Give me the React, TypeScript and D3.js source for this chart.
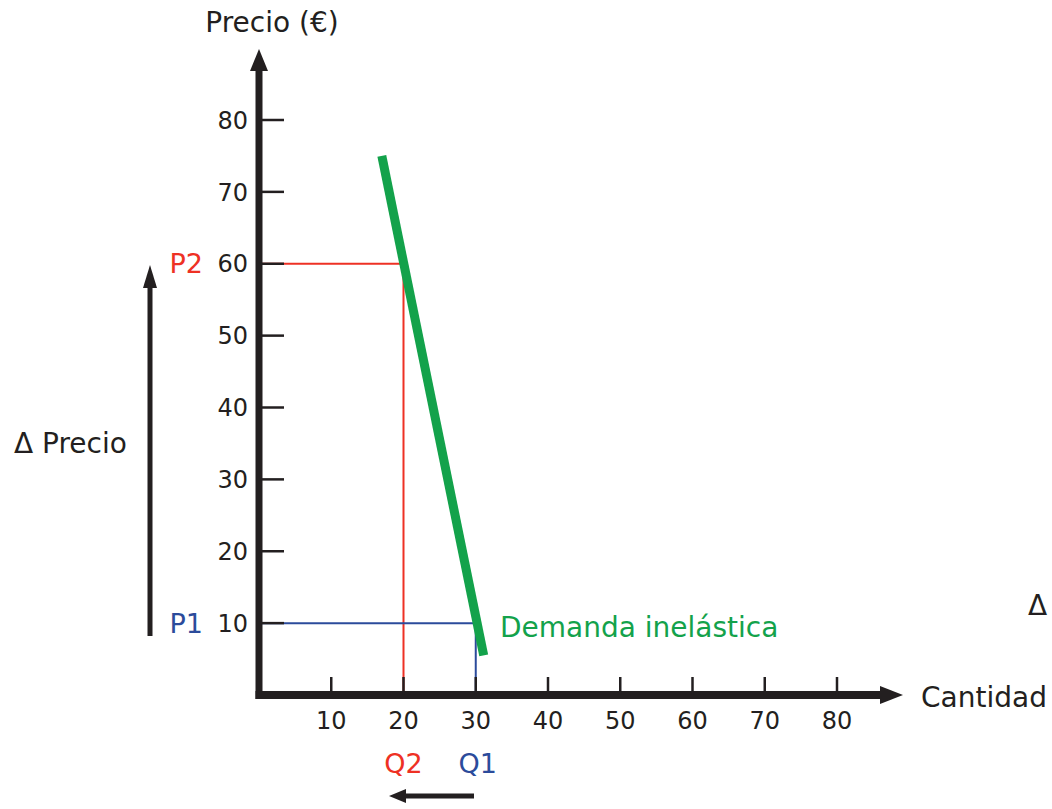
import React from "react";
import * as d3 from "d3";

const xTicks = [10, 20, 30, 40, 50, 60, 70, 80];
const yTicks = [10, 20, 30, 40, 50, 60, 70, 80];
// Demand curve endpoints (quantity, price)
const demand: [number, number][] = [
  [17.0, 75],
  [31.1, 5.5],
];
const point1 = { q: 30, p: 10, qLabel: "Q1", pLabel: "P1" };
const point2 = { q: 20, p: 60, qLabel: "Q2", pLabel: "P2" };

const W = 1052;
const H = 809;
const FONT = "'DejaVu Sans', Verdana, sans-serif";
const AX = "#231f20";
const RED = "#ee3124";
const BLUE = "#2b4b9b";
const GREEN = "#13a24b";

export default function App() {
  const x = d3.scaleLinear().domain([0, 80]).range([259, 837]);
  const y = d3.scaleLinear().domain([0, 80]).range([695, 120]);
  const line = d3
    .line<[number, number]>()
    .x((d) => x(d[0]))
    .y((d) => y(d[1]));

  const x0 = x(0);
  const y0 = y(0);

  return (
    <div style={{ position: "fixed", left: 0, top: 0 }}>
      <svg width={W} height={H} style={{ display: "block", background: "#fff" }} fontFamily={FONT}>
        {/* guide lines */}
        <line x1={x0} x2={x(point2.q)} y1={y(point2.p)} y2={y(point2.p)} stroke={RED} strokeWidth={2} />
        <line x1={x(point2.q)} x2={x(point2.q)} y1={y(point2.p)} y2={y0} stroke={RED} strokeWidth={2} />
        <line x1={x0} x2={x(point1.q)} y1={y(point1.p)} y2={y(point1.p)} stroke={BLUE} strokeWidth={2} />
        <line x1={x(point1.q)} x2={x(point1.q)} y1={y(point1.p)} y2={y0} stroke={BLUE} strokeWidth={2} />

        {/* demand curve */}
        <path d={line(demand) || ""} stroke={GREEN} strokeWidth={9} fill="none" />

        {/* y axis */}
        <line x1={x0} x2={x0} y1={y0 + 4} y2={68} stroke={AX} strokeWidth={7} />
        <path d={`M${x0},49 L${x0 - 9},71 L${x0 + 9},71 Z`} fill={AX} />
        {/* x axis */}
        <line x1={x0 - 3.5} x2={882} y1={y0} y2={y0} stroke={AX} strokeWidth={8} />
        <path d={`M903,${y0} L880,${y0 - 9} L880,${y0 + 9} Z`} fill={AX} />

        {/* y ticks */}
        {yTicks.map((t) => (
          <g key={"y" + t}>
            <line x1={x0} x2={x0 + 25} y1={y(t)} y2={y(t)} stroke={AX} strokeWidth={2.5} />
            <text x={248} y={y(t)} dy="0.36em" textAnchor="end" fontSize={24} fill={AX}>
              {t}
            </text>
          </g>
        ))}
        {/* x ticks */}
        {xTicks.map((t) => (
          <g key={"x" + t}>
            <line x1={x(t)} x2={x(t)} y1={y0} y2={y0 - 18} stroke={AX} strokeWidth={2.5} />
            <text x={x(t)} y={729} textAnchor="middle" fontSize={24} fill={AX}>
              {t}
            </text>
          </g>
        ))}

        {/* axis titles */}
        <text x={272} y={32} textAnchor="middle" fontSize={28} fill={AX}>
          Precio (€)
        </text>
        <text x={921} y={707} fontSize={28} fill={AX}>
          Cantidad
        </text>

        {/* P / Q labels */}
        <text x={203} y={y(point2.p)} dy="0.36em" textAnchor="end" fontSize={27} fill={RED}>
          {point2.pLabel}
        </text>
        <text x={203} y={y(point1.p)} dy="0.36em" textAnchor="end" fontSize={27} fill={BLUE}>
          {point1.pLabel}
        </text>
        <text x={x(point2.q)} y={773} textAnchor="middle" fontSize={27} fill={RED}>
          {point2.qLabel}
        </text>
        <text x={x(point1.q) + 2} y={773} textAnchor="middle" fontSize={27} fill={BLUE}>
          {point1.qLabel}
        </text>

        {/* demand label */}
        <text x={500} y={637} fontSize={28} fill={GREEN}>
          Demanda inelástica
        </text>

        {/* Δ Precio arrow */}
        <line x1={150} x2={150} y1={636} y2={285} stroke={AX} strokeWidth={5} />
        <path d={`M150,265 L143,288 L157,288 Z`} fill={AX} />
        <text x={14} y={453} fontSize={28} fill={AX}>
          Δ Precio
        </text>

        {/* Δ Cantidad arrow (label cut at the right edge in the reference: only Δ visible) */}
        <line x1={474} x2={405} y1={796} y2={796} stroke={AX} strokeWidth={5} />
        <path d={`M389,796 L406,789 L406,803 Z`} fill={AX} />
        <text x={1028} y={615} fontSize={28} fill={AX}>
          Δ
        </text>
      </svg>
    </div>
  );
}
